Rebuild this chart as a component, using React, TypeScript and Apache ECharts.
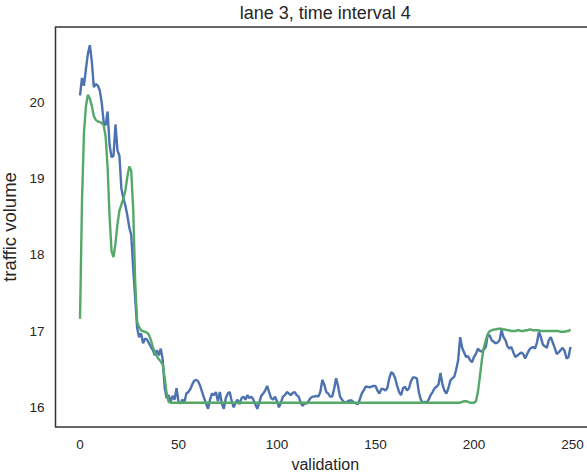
import React, { useEffect, useRef } from "react";
import * as echarts from "echarts";

const TITLE = "lane 3, time interval 4";
const X_LABEL = "validation";
const Y_LABEL = "traffic volume";

// observed traffic volume (blue)
const observed: number[] = [
  20.09, 20.32, 20.22, 20.44, 20.64, 20.75, 20.53, 20.20, 20.24, 20.22,
  20.16, 20.00, 19.74, 19.70, 19.88, 19.44, 19.28, 19.30, 19.71, 19.37,
  19.30, 18.87, 18.74, 18.65, 18.52, 18.36, 18.26, 17.82, 17.43, 17.04,
  16.92, 16.97, 16.84, 16.90, 16.89, 16.84, 16.79, 16.75, 16.68, 16.75,
  16.68, 16.77, 16.62, 16.25, 16.12, 16.16, 16.07, 16.15, 16.10, 16.25,
  16.07, 16.05, 16.10, 16.07, 16.18, 16.20, 16.24, 16.30, 16.35, 16.36,
  16.34, 16.28, 16.20, 16.12, 16.05, 15.98, 16.10, 16.18, 16.16, 16.20,
  16.08, 16.20, 16.05, 15.98, 16.12, 16.18, 16.20, 16.08, 16.00, 16.06,
  16.10, 16.04, 16.12, 16.14, 16.10, 16.16, 16.12, 16.14, 16.10, 16.04,
  15.98, 16.06, 16.15, 16.18, 16.22, 16.28, 16.20, 16.12, 16.10, 16.14,
  16.08, 16.00, 16.06, 16.14, 16.16, 16.20, 16.18, 16.16, 16.19, 16.20,
  16.16, 16.14, 16.06, 16.02, 16.05, 16.05, 16.08, 16.12, 16.14, 16.14,
  16.15, 16.14, 16.20, 16.36, 16.30, 16.20, 16.18, 16.14, 16.14, 16.24,
  16.38, 16.28, 16.14, 16.10, 16.07, 16.06, 16.08, 16.09, 16.09, 16.06,
  16.05, 16.04, 16.10, 16.18, 16.22, 16.27, 16.27, 16.26, 16.27, 16.28,
  16.28, 16.22, 16.18, 16.24, 16.24, 16.22, 16.25, 16.38, 16.46, 16.44,
  16.38, 16.28, 16.20, 16.16, 16.25, 16.27, 16.22, 16.25, 16.34, 16.39,
  16.39, 16.38, 16.20, 16.10, 16.06, 16.07, 16.06, 16.10, 16.16, 16.20,
  16.25, 16.27, 16.30, 16.45, 16.30, 16.22, 16.18, 16.25, 16.35, 16.38,
  16.40, 16.50, 16.62, 16.92, 16.78, 16.72, 16.66, 16.67, 16.62, 16.59,
  16.66, 16.70, 16.77, 16.74, 16.73, 16.76, 16.79, 16.95, 16.94, 16.88,
  16.86, 16.84, 16.85, 16.88, 17.01, 16.92, 16.88, 16.80, 16.77, 16.79,
  16.72, 16.66, 16.68, 16.70, 16.72, 16.70, 16.64, 16.70, 16.75, 16.78,
  16.79, 16.77, 16.85, 16.99, 16.92, 16.82, 16.80, 16.78, 16.88, 16.92,
  16.85, 16.78, 16.70, 16.72, 16.75, 16.78, 16.74, 16.64, 16.66, 16.79,
];

// predicted traffic volume (green)
const predicted: number[] = [
  17.16, 18.70, 19.60, 19.95, 20.10, 20.05, 19.95, 19.82, 19.77, 19.75,
  19.74, 19.73, 19.70, 19.55, 19.15, 18.50, 18.05, 17.97, 18.15, 18.40,
  18.58, 18.66, 18.74, 18.84, 19.02, 19.16, 19.10, 18.60, 17.65, 17.12,
  17.05, 17.01, 17.00, 16.99, 16.98, 16.95, 16.88, 16.79, 16.72, 16.67,
  16.63, 16.60, 16.56, 16.38, 16.18, 16.07, 16.06, 16.06, 16.06, 16.06,
  16.06, 16.06, 16.06, 16.06, 16.06, 16.06, 16.06, 16.06, 16.06, 16.06,
  16.06, 16.06, 16.06, 16.06, 16.06, 16.06, 16.06, 16.06, 16.06, 16.06,
  16.06, 16.06, 16.06, 16.06, 16.06, 16.06, 16.06, 16.06, 16.06, 16.06,
  16.06, 16.06, 16.06, 16.06, 16.06, 16.06, 16.06, 16.06, 16.06, 16.06,
  16.06, 16.06, 16.06, 16.06, 16.06, 16.06, 16.06, 16.06, 16.06, 16.06,
  16.06, 16.06, 16.06, 16.06, 16.06, 16.06, 16.06, 16.06, 16.06, 16.06,
  16.06, 16.06, 16.06, 16.06, 16.06, 16.06, 16.06, 16.06, 16.06, 16.06,
  16.06, 16.06, 16.06, 16.06, 16.06, 16.06, 16.06, 16.06, 16.06, 16.06,
  16.06, 16.06, 16.06, 16.06, 16.06, 16.06, 16.06, 16.06, 16.06, 16.06,
  16.06, 16.06, 16.06, 16.06, 16.06, 16.06, 16.06, 16.06, 16.06, 16.06,
  16.06, 16.06, 16.06, 16.06, 16.06, 16.06, 16.06, 16.06, 16.06, 16.06,
  16.06, 16.06, 16.06, 16.06, 16.06, 16.06, 16.06, 16.06, 16.06, 16.06,
  16.06, 16.06, 16.06, 16.06, 16.06, 16.06, 16.06, 16.06, 16.06, 16.06,
  16.06, 16.06, 16.06, 16.06, 16.06, 16.06, 16.06, 16.06, 16.06, 16.06,
  16.06, 16.06, 16.06, 16.06, 16.07, 16.08, 16.08, 16.07, 16.06, 16.06,
  16.06, 16.08, 16.20, 16.40, 16.62, 16.78, 16.88, 16.96, 17.00, 17.01,
  17.02, 17.02, 17.03, 17.03, 17.03, 17.02, 17.02, 17.01, 17.01, 17.00,
  17.00, 17.00, 17.01, 17.01, 17.00, 17.00, 17.01, 17.01, 17.02, 17.02,
  17.01, 17.01, 17.01, 17.01, 17.00, 17.00, 17.00, 17.00, 17.00, 17.00,
  17.00, 17.00, 17.00, 17.00, 16.99, 16.99, 16.99, 17.00, 17.00, 17.02,
];

const BLUE = "#4C72B0";
const GREEN = "#55A868";
const INK = "#262626";
const FONT = "Liberation Sans";

const CHART_W = 600;
const CHART_H = 474;

export default function App() {
  const ref = useRef<HTMLDivElement>(null);

  useEffect(() => {
    if (!ref.current) return;
    const chart = echarts.init(ref.current, undefined, { renderer: "svg" });

    const n = observed.length;
    const all = observed.concat(predicted);
    const lo = Math.min(...all);
    const hi = Math.max(...all);
    const padY = (hi - lo) * 0.05;
    const padX = (n - 1) * 0.05;

    const toPairs = (arr: number[]) => arr.map((v, i) => [i, v]);

    const gridLeft = 55.5;
    const gridRight = 5;
    const axesCenter = (gridLeft + (CHART_W - gridRight)) / 2;

    chart.setOption({
      animation: false,
      backgroundColor: "#ffffff",
      textStyle: { fontFamily: FONT },
      grid: {
        left: gridLeft,
        top: 27,
        right: gridRight,
        bottom: 47,
        containLabel: false,
        outerBoundsMode: "none",
        show: true,
        borderColor: "#333333",
        borderWidth: 1.5,
        backgroundColor: "transparent",
      },
      graphic: [
        {
          type: "text",
          x: axesCenter,
          y: 13,
          style: {
            text: TITLE,
            fill: INK,
            font: `18px '${FONT}'`,
            textAlign: "center",
            textVerticalAlign: "middle",
          },
        },
      ],
      xAxis: {
        type: "value",
        min: -padX,
        max: n - 1 + padX,
        scale: true,
        name: X_LABEL,
        nameLocation: "middle",
        nameGap: 29,
        nameTextStyle: { color: INK, fontSize: 16, fontFamily: FONT },
        axisLine: { show: false },
        axisTick: { show: false },
        splitLine: { show: false },
        axisLabel: {
          color: INK,
          fontSize: 13.5,
          fontFamily: FONT,
          margin: 10,
          showMinLabel: false,
          showMaxLabel: false,
          formatter: (v: number) => (Math.abs(v % 50) < 1e-6 ? String(v) : ""),
        },
      },
      yAxis: {
        type: "value",
        min: lo - padY,
        max: hi + padY,
        scale: true,
        name: Y_LABEL,
        nameLocation: "middle",
        nameGap: 25,
        nameRotate: 90,
        nameTextStyle: { color: INK, fontSize: 18.5, fontFamily: FONT },
        axisLine: { show: false },
        axisTick: { show: false },
        splitLine: { show: false },
        axisLabel: {
          color: INK,
          fontSize: 13.5,
          fontFamily: FONT,
          margin: 11,
          showMinLabel: false,
          showMaxLabel: false,
          formatter: (v: number) => (Math.abs(v - Math.round(v)) < 1e-6 ? String(Math.round(v)) : ""),
        },
      },
      series: [
        {
          type: "line",
          data: toPairs(observed),
          showSymbol: false,
          lineStyle: { color: BLUE, width: 2.4 },
          itemStyle: { color: BLUE },
          z: 2,
        },
        {
          type: "line",
          data: toPairs(predicted),
          showSymbol: false,
          lineStyle: { color: GREEN, width: 2.4 },
          itemStyle: { color: GREEN },
          z: 3,
        },
      ],
    });

    return () => chart.dispose();
  }, []);

  return (
    <div style={{ position: "fixed", left: 0, top: 0, width: 587, height: 474, overflow: "hidden" }}>
      <div ref={ref} style={{ width: CHART_W, height: CHART_H }} />
    </div>
  );
}
